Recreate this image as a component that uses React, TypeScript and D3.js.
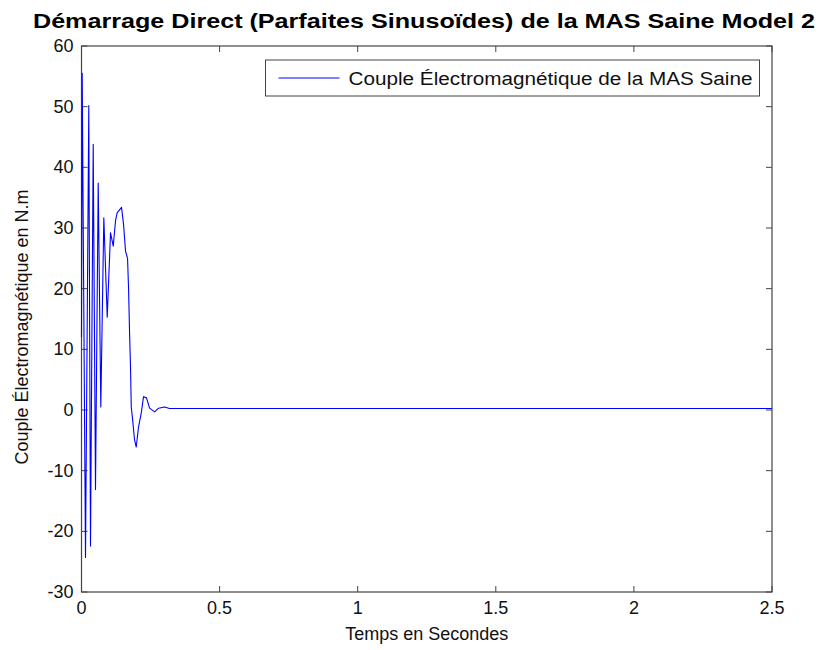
import React, { useRef, useEffect } from 'react';
import * as d3 from 'd3';

// Couple électromagnétique (N.m), en fonction du temps (s)
const timeValues = [
  0, 0.0025, 0.0145, 0.0264, 0.0326, 0.0424, 0.0507, 0.0605, 0.0699, 0.0808,
  0.0931, 0.1051, 0.1149, 0.1232, 0.1290, 0.1449, 0.1522, 0.1594, 0.1667, 0.1703,
  0.1739, 0.1775, 0.1801, 0.1840, 0.1920, 0.1982, 0.2065, 0.2163, 0.2246, 0.2355,
  0.2464, 0.2645, 0.2790, 0.3007, 0.3188, 2.5,
];
const torqueValues = [
  12, 55.5, -24.3, 50.2, -22.4, 43.8, -13.1, 37.4, 0.5, 31.7,
  15.3, 29.2, 27, 31.2, 32.5, 33.4, 30.6, 26.2, 25, 20.2,
  13, 7, 0.5, -1.1, -4.9, -6.1, -2.8, -0.5, 2.2, 2.0,
  0.3, -0.3, 0.3, 0.5, 0.25, 0.25,
];

const xTicks = [0, 0.5, 1, 1.5, 2, 2.5];
const yTicks = [-30, -20, -10, 0, 10, 20, 30, 40, 50, 60];

const title = 'Démarrage Direct (Parfaites Sinusoïdes) de la MAS Saine Model 2';
const xLabel = 'Temps en Secondes';
const yLabel = 'Couple Électromagnétique en N.m';
const legendLabel = 'Couple Électromagnétique de la MAS Saine';

const width = 822;
const height = 650;

const App = () => {
  const ref = useRef<SVGSVGElement>(null);

  useEffect(() => {
    const svg = d3.select(ref.current);
    svg.selectAll('*').remove();

    const margin = { top: 46, right: 50, bottom: 58, left: 81.5 };
    const innerWidth = width - margin.left - margin.right;
    const innerHeight = height - margin.top - margin.bottom;
    const font = 'Arial, "Liberation Sans", sans-serif';

    const x = d3.scaleLinear().domain([0, 2.5]).range([0, innerWidth]);
    const y = d3.scaleLinear().domain([-30, 60]).range([innerHeight, 0]);

    svg.append('rect').attr('width', width).attr('height', height).attr('fill', '#fff');

    const g = svg.append('g').attr('transform', `translate(${margin.left},${margin.top})`);

    // ticks on all four sides, pointing inward (MATLAB box)
    const tickLen = 6;
    const tickColor = '#444';
    xTicks.forEach(t => {
      g.append('line').attr('x1', x(t)).attr('x2', x(t)).attr('y1', innerHeight).attr('y2', innerHeight - tickLen)
        .attr('stroke', tickColor);
      g.append('line').attr('x1', x(t)).attr('x2', x(t)).attr('y1', 0).attr('y2', tickLen)
        .attr('stroke', tickColor);
      g.append('text').attr('x', x(t)).attr('y', innerHeight + 22)
        .attr('text-anchor', 'middle').attr('font-family', font).attr('font-size', 18).attr('fill', '#111')
        .text(d3.format('~g')(t));
    });
    yTicks.forEach(t => {
      g.append('line').attr('x1', 0).attr('x2', tickLen).attr('y1', y(t)).attr('y2', y(t))
        .attr('stroke', tickColor);
      g.append('line').attr('x1', innerWidth).attr('x2', innerWidth - tickLen).attr('y1', y(t)).attr('y2', y(t))
        .attr('stroke', tickColor);
      g.append('text').attr('x', -8).attr('y', y(t) + 6)
        .attr('text-anchor', 'end').attr('font-family', font).attr('font-size', 18).attr('fill', '#111')
        .text(String(t));
    });

    g.append('rect').attr('width', innerWidth).attr('height', innerHeight)
      .attr('fill', 'none').attr('stroke', '#444').attr('stroke-width', 1.2);

    // courbe
    const points = timeValues.map((t, i) => [t, torqueValues[i]] as [number, number]);
    const line = d3.line<[number, number]>().x(d => x(d[0])).y(d => y(d[1]));
    g.append('path').datum(points)
      .attr('fill', 'none').attr('stroke', '#0000ff').attr('stroke-width', 1.1)
      .attr('stroke-linejoin', 'round').attr('d', line);

    // légende
    const legend = g.append('g').attr('transform', `translate(${184},${14})`);
    legend.append('rect').attr('width', 494).attr('height', 36)
      .attr('fill', '#fff').attr('stroke', '#444');
    legend.append('line').attr('x1', 13).attr('x2', 74).attr('y1', 18).attr('y2', 18)
      .attr('stroke', '#0000ff').attr('stroke-width', 1.1);
    legend.append('text').attr('x', 83).attr('y', 24.5)
      .attr('font-family', font).attr('font-size', 18).attr('fill', '#111')
      .attr('textLength', 404).attr('lengthAdjust', 'spacingAndGlyphs')
      .text(legendLabel);

    // titres
    svg.append('text').attr('x', 424).attr('y', 28)
      .attr('text-anchor', 'middle').attr('font-family', font).attr('font-size', 20)
      .attr('font-weight', 'bold').attr('fill', '#000')
      .attr('textLength', 782).attr('lengthAdjust', 'spacingAndGlyphs')
      .text(title);
    svg.append('text').attr('x', margin.left + innerWidth / 2).attr('y', 640)
      .attr('text-anchor', 'middle').attr('font-family', font).attr('font-size', 18).attr('fill', '#111')
      .text(xLabel);
    svg.append('text')
      .attr('transform', `translate(28,${margin.top + innerHeight / 2 + 8}) rotate(-90)`)
      .attr('text-anchor', 'middle').attr('font-family', font).attr('font-size', 18).attr('fill', '#111')
      .text(yLabel);
  }, []);

  return (
    <div style={{ position: 'absolute', left: 0, top: 0 }}>
      <svg ref={ref} width={width} height={height} style={{ display: 'block' }} />
    </div>
  );
};

export default App;
